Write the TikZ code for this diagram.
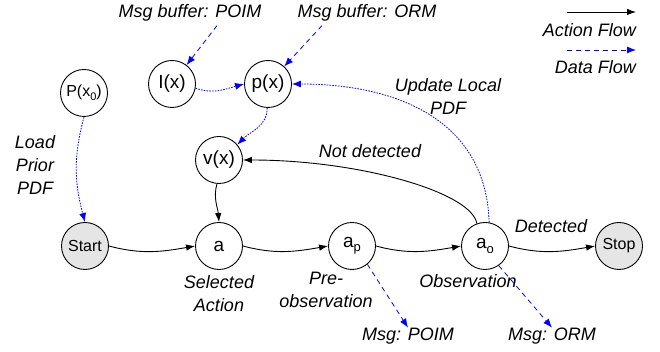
\documentclass[tikz,border=0pt]{standalone}
\usepackage{fontspec}
\setmainfont{Liberation Sans}
\usetikzlibrary{arrows.meta}
\newcommand\lowsub[2]{\raisebox{-0.22em}{\fontsize{#1}{#1}\selectfont #2}}
\tikzset{
  st/.style={circle,draw,line width=0.9pt,minimum size=47pt,inner sep=0pt,font=\fontsize{19}{19}\selectfont},
  sm/.style={st,font=\fontsize{16}{16}\selectfont},
  term/.style={sm,fill=gray!20},
  lbl/.style={font=\fontsize{18}{23}\selectfont\itshape,align=center,inner sep=0pt},
  act/.style={line width=0.9pt,-{Latex[length=9pt,width=6.5pt]}},
  dat/.style={blue,line width=0.8pt,dash pattern=on 5pt off 4pt,-{Latex[length=9pt,width=7pt]}},
  datc/.style={blue,line width=0.8pt,dash pattern=on 1.6pt off 1.2pt,-{Latex[length=9pt,width=7pt]}},
}
\begin{document}
\begin{tikzpicture}[x=1pt,y=1pt]
\useasboundingbox (0,0) rectangle (660,352);
% nodes
\node[sm] (P0) at (84,259) {P(x\lowsub{11}{0})};
\node[st] (I) at (172,268) {I(x)};
\node[st] (p) at (268,268) {p(x)};
\node[st] (v) at (219,192) {v(x)};
\node[term] (Start) at (85,106) {Start};
\node[st] (a) at (219,106) {a};
\node[st] (ap) at (352,106) {a\lowsub{13}{p}};
\node[st] (ao) at (485,106) {a\lowsub{13}{o}};
\node[term] (Stop) at (619,106) {Stop};
% labels
\node[lbl] (mbp) at (190,339) {Msg buffer: POIM};
\node[lbl] (mbo) at (367,339) {Msg buffer: ORM};
\node[lbl] (upd) at (448,256) {Update Local\\PDF};
\node[lbl] (nd) at (370,201) {Not detected};
\node[lbl] (lpp) at (35,187) {Load\\Prior\\PDF};
\node[lbl] (sel) at (219,58) {Selected\\Action};
\node[lbl] (pre) at (326,62) {Pre-\\observation};
\node[lbl] (obs) at (468,71) {Observation};
\node[lbl] (det) at (551,126) {Detected};
\node[lbl] (mp) at (408,16) {Msg: POIM};
\node[lbl] (mo) at (552,16) {Msg: ORM};
% legend
\coordinate (l1a) at (567,340);
\coordinate (l1b) at (636,340);
\coordinate (l2a) at (567,302);
\coordinate (l2b) at (636,302);
\draw[act] (l1a) -- (l1b);
\node[lbl,anchor=east] (af) at (636,322) {Action Flow};
\draw[dat] (l2a) -- (l2b);
\node[lbl,anchor=east] (df) at (636,285) {Data Flow};
% action flow
\draw[act] (Start.east) to[out=-15,in=-170] (a.west);
\draw[act] (a.east) to[out=-15,in=-170] (ap.west);
\draw[act] (ap.east) to[out=-15,in=-170] (ao.west);
\draw[act] (ao.east) to[out=-15,in=-170] (Stop.west);
\draw[act] (v.-95) to[out=-105,in=95] (a.north);
\draw[act] (ao.110) .. controls +(-5,31) and +(117,0) .. (v.east);
% data flow
\draw[dat] ([xshift=27pt,yshift=-4pt]mbp.south) -- (I);
\draw[dat] ([xshift=-45pt,yshift=-4pt]mbo.south) -- (p);
\draw[dat] (ap.-50) -- (mp.north);
\draw[dat] (ao.-55) -- (mo.north);
\draw[datc] (P0.south) to[out=-105,in=105] (Start.north);
\draw[datc] (I.-10) to[out=-20,in=-165] (p.west);
\draw[datc] (p.-92) to[out=-90,in=45] (v.40);
\draw[datc] (ao.80) .. controls +(-3,101) and +(107,0) .. (p.east);
\end{tikzpicture}
\end{document}
